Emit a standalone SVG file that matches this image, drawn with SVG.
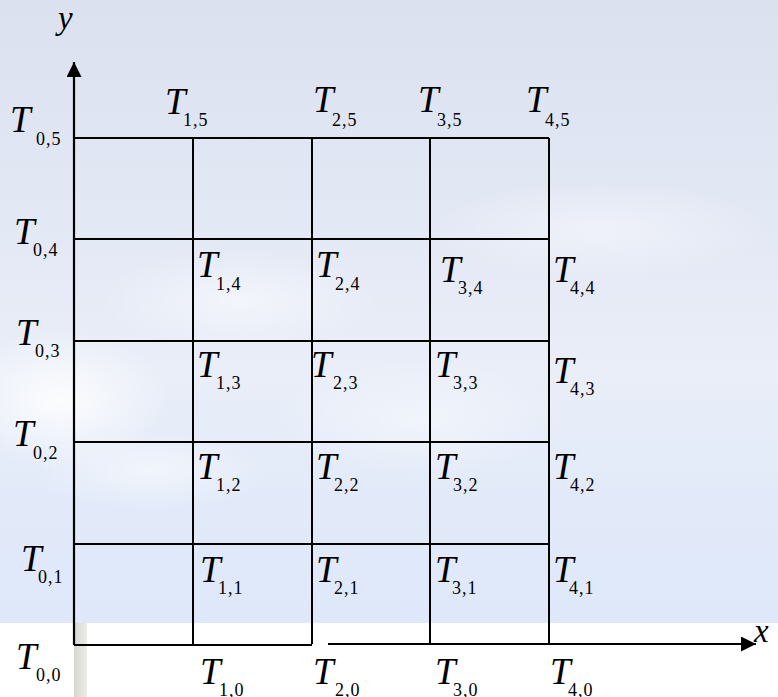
<svg xmlns="http://www.w3.org/2000/svg" width="778" height="697" viewBox="0 0 778 697">
<defs>
<linearGradient id="bg" x1="0" y1="0" x2="0" y2="1">
<stop offset="0" stop-color="#dce1f0"/>
<stop offset="0.35" stop-color="#e3e8f5"/>
<stop offset="0.6" stop-color="#e9eef8"/>
<stop offset="0.8" stop-color="#e2eaf9"/>
<stop offset="1" stop-color="#dfe8fa"/>
</linearGradient>
<radialGradient id="cloud">
<stop offset="0" stop-color="#ffffff" stop-opacity="0.85"/>
<stop offset="1" stop-color="#ffffff" stop-opacity="0"/>
</radialGradient>
<linearGradient id="bar" x1="0" y1="0" x2="1" y2="0">
<stop offset="0" stop-color="#d6d6d2"/>
<stop offset="1" stop-color="#ecece9"/>
</linearGradient>
<marker id="arr" viewBox="0 0 15 15" refX="15" refY="7.5" markerWidth="15" markerHeight="15" markerUnits="userSpaceOnUse" orient="auto">
<path d="M0,0 L15,7.5 L0,15 Z" fill="#000"/>
</marker>
<style>
.g{stroke:#000;stroke-width:2;fill:none}
.ax{stroke:#000;stroke-width:2.2;fill:none}
text{font-family:"Liberation Serif","Times New Roman",serif;fill:#000}
.t{font-style:italic;font-size:37px}
.s{font-style:normal;font-size:18px;letter-spacing:1px}
.v{font-style:italic;font-size:33px}
</style>
</defs>
<g id="background">
<rect x="0" y="0" width="778" height="623" fill="url(#bg)"/>
<ellipse cx="60" cy="400" rx="110" ry="70" fill="url(#cloud)"/>
<ellipse cx="240" cy="300" rx="140" ry="50" fill="url(#cloud)" opacity="0.6"/>
<ellipse cx="150" cy="470" rx="120" ry="40" fill="url(#cloud)" opacity="0.6"/>
<ellipse cx="600" cy="230" rx="170" ry="50" fill="url(#cloud)" opacity="0.5"/>
<ellipse cx="420" cy="420" rx="150" ry="60" fill="url(#cloud)" opacity="0.5"/>
<rect x="0" y="623" width="778" height="74" fill="#ffffff"/>
<rect x="74" y="623" width="13" height="74" fill="url(#bar)"/>
</g>
<g id="grid">
<path class="g" d="M74,138 H549 M74,239 H549 M74,341 H549 M74,442 H549 M74,544 H549 M193,138 V644 M312,138 V644 M430,138 V644 M549,138 V644"/>
</g>
<g id="axes">
<path class="ax" d="M74,645 V62" marker-end="url(#arr)"/>
<path class="ax" d="M74,645 H312"/>
<path class="ax" d="M328,644 H756" marker-end="url(#arr)"/>
<text class="v" x="58" y="29">y</text>
<text class="v" x="754" y="642">x</text>
</g>
<g id="labels">
<text id="T05"><tspan class="t" x="10" y="132">T</tspan><tspan class="s" x="36" y="145">0,5</tspan></text>
<text id="T15"><tspan class="t" x="165" y="114">T</tspan><tspan class="s" x="183" y="126">1,5</tspan></text>
<text id="T25"><tspan class="t" x="313" y="112">T</tspan><tspan class="s" x="332" y="126">2,5</tspan></text>
<text id="T35"><tspan class="t" x="418" y="112">T</tspan><tspan class="s" x="437" y="126">3,5</tspan></text>
<text id="T45"><tspan class="t" x="526" y="112">T</tspan><tspan class="s" x="545" y="126">4,5</tspan></text>

<text id="T04"><tspan class="t" x="14" y="244">T</tspan><tspan class="s" x="33" y="256">0,4</tspan></text>
<text id="T14"><tspan class="t" x="197" y="277">T</tspan><tspan class="s" x="216" y="290">1,4</tspan></text>
<text id="T24"><tspan class="t" x="316" y="277">T</tspan><tspan class="s" x="335" y="290">2,4</tspan></text>
<text id="T34"><tspan class="t" x="440" y="282">T</tspan><tspan class="s" x="458" y="294">3,4</tspan></text>
<text id="T44"><tspan class="t" x="553" y="282">T</tspan><tspan class="s" x="570" y="294">4,4</tspan></text>

<text id="T03"><tspan class="t" x="16" y="345">T</tspan><tspan class="s" x="35" y="357">0,3</tspan></text>
<text id="T13"><tspan class="t" x="197" y="377">T</tspan><tspan class="s" x="216" y="389">1,3</tspan></text>
<text id="T23"><tspan class="t" x="311" y="377">T</tspan><tspan class="s" x="333" y="389">2,3</tspan></text>
<text id="T33"><tspan class="t" x="435" y="377">T</tspan><tspan class="s" x="453" y="389">3,3</tspan></text>
<text id="T43"><tspan class="t" x="553" y="383">T</tspan><tspan class="s" x="570" y="395">4,3</tspan></text>

<text id="T02"><tspan class="t" x="13" y="446">T</tspan><tspan class="s" x="33" y="459">0,2</tspan></text>
<text id="T12"><tspan class="t" x="197" y="479">T</tspan><tspan class="s" x="216" y="491">1,2</tspan></text>
<text id="T22"><tspan class="t" x="316" y="479">T</tspan><tspan class="s" x="334" y="491">2,2</tspan></text>
<text id="T32"><tspan class="t" x="435" y="479">T</tspan><tspan class="s" x="453" y="491">3,2</tspan></text>
<text id="T42"><tspan class="t" x="553" y="479">T</tspan><tspan class="s" x="570" y="491">4,2</tspan></text>

<text id="T01"><tspan class="t" x="21" y="571">T</tspan><tspan class="s" x="38" y="583">0,1</tspan></text>
<text id="T11"><tspan class="t" x="200" y="582">T</tspan><tspan class="s" x="218" y="594">1,1</tspan></text>
<text id="T21"><tspan class="t" x="316" y="582">T</tspan><tspan class="s" x="334" y="594">2,1</tspan></text>
<text id="T31"><tspan class="t" x="435" y="582">T</tspan><tspan class="s" x="452" y="594">3,1</tspan></text>
<text id="T41"><tspan class="t" x="553" y="582">T</tspan><tspan class="s" x="569" y="594">4,1</tspan></text>

<text id="T00"><tspan class="t" x="16" y="669">T</tspan><tspan class="s" x="36" y="681">0,0</tspan></text>
<text id="T10"><tspan class="t" x="200" y="684">T</tspan><tspan class="s" x="219" y="696">1,0</tspan></text>
<text id="T20"><tspan class="t" x="313" y="684">T</tspan><tspan class="s" x="335" y="696">2,0</tspan></text>
<text id="T30"><tspan class="t" x="435" y="684">T</tspan><tspan class="s" x="453" y="696">3,0</tspan></text>
<text id="T40"><tspan class="t" x="550" y="684">T</tspan><tspan class="s" x="568" y="696">4,0</tspan></text>
</g>
</svg>
